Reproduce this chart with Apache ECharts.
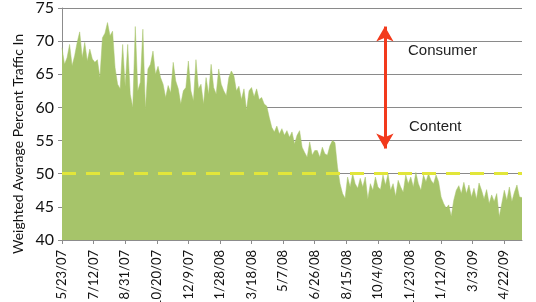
<!DOCTYPE html>
<html>
<head>
<meta charset="utf-8">
<script src="https://cdn.jsdelivr.net/npm/echarts@6/dist/echarts.min.js"></script>
<style>
  html, body { margin: 0; padding: 0; background: #fff; }
  #chart { width: 536px; height: 302px; }
</style>
</head>
<body>
<div id="chart"></div>
<script>
// days since 5/23/07, one value every 4 days
var stepDays = 4;
var xLabels = ['5/23/07', '7/12/07', '8/31/07', '10/20/07', '12/9/07', '1/28/08', '3/18/08',
    '5/7/08', '6/26/08', '8/15/08', '10/4/08', '11/23/08', '1/12/09', '3/3/09', '4/22/09'];
var trafficIn = [
    69, 66.5, 67.5, 69.5, 66.3, 67.8, 69.8, 71.4,
    67.5, 69.8, 67.0, 68.8, 67.3, 66.8, 67.2, 64.5,
    70.5, 71.2, 72.8, 70.8, 71.5, 66, 63.5, 62.8, 69.5, 63.2, 69.5,
    62, 60, 72.2, 62.5, 63.8, 71.8, 59.8, 65.8, 66.5, 68.5, 65, 66.2, 64.5,
    63.5, 61.5, 63.3, 62.2, 66.8, 64, 62.8, 60.5, 62.5, 63,
    67, 62.5, 61, 67.2, 62.8, 63.5, 60.5, 64.5, 62, 66.5, 63, 62,
    65.8, 63.5, 62.5, 61.8, 64.5, 65.5, 64.8, 62.5, 63.2, 61.2,
    62.8, 59.6, 62.5, 63, 61.6, 62.8, 61.2, 61.5, 60.5, 60.2, 58.5,
    57, 56.3, 57.2, 56, 56.8, 55.8, 56.5,
    55.5, 56.3, 54.5, 55.8, 56.5, 54, 53.2, 52.5, 54.8, 52.8, 53.5,
    53.5, 52.5, 54, 53, 52.8, 54.2, 55, 54.7, 51,
    48.5, 47, 46.3, 49.5, 48, 50, 48.5, 47.8, 49.3,
    48, 49.5, 46.2, 48.5, 47.5, 49.5, 48, 47.6, 49.8, 48.3, 50, 47.5,
    48.5, 46.6, 49, 48, 47.2, 49.8, 48.5, 49.5, 48,
    50.2, 48.5, 47.5, 49.8, 48.8, 50, 49, 48.5, 49.8, 48.8,
    46.5, 45.5, 44.8, 45.3, 43.6, 46, 47.5, 48.2, 47,
    48.7, 47, 48.3, 46.5, 47.8, 46.2, 48.6,
    47.5, 46.2, 47.6, 45.5, 46.8, 45.8, 47, 43.5, 45.5,
    47.5, 46, 48, 45.8, 47.2, 48.3, 46.5, 46.4
];
var thresholdLine = 50;
var arrowDay = 511;
var arrowTop = 72.2;
var arrowBottom = 53.8;

var seriesData = trafficIn.map(function (v, i) { return [i * stepDays, v]; });

var myChart = echarts.init(document.getElementById('chart'));
var option = {
    animation: false,
    grid: { left: 62, right: 14, top: 8, bottom: 62, outerBoundsMode: 'none', containLabel: false },
    xAxis: {
        type: 'value',
        min: 0,
        max: (trafficIn.length - 1) * stepDays,
        interval: 50,
        splitLine: { show: false },
        axisLine: { lineStyle: { color: '#8c8c8c', width: 1 } },
        axisTick: { show: true, length: 4, lineStyle: { color: '#8c8c8c' } },
        axisLabel: {
            rotate: 90,
            showMaxLabel: false,
            fontFamily: 'Lato',
            fontSize: 13,
            color: '#111',
            margin: 10,
            formatter: function (v) { return xLabels[v / 50] || ''; }
        }
    },
    yAxis: {
        type: 'value',
        min: 40,
        max: 75,
        interval: 5,
        axisLine: { show: true, lineStyle: { color: '#8c8c8c', width: 1 } },
        axisTick: { show: true, length: 4, lineStyle: { color: '#8c8c8c' } },
        splitLine: { lineStyle: { color: '#8a8a8a', width: 1.2 } },
        axisLabel: { fontFamily: 'Lato', fontSize: 16, color: '#111', margin: 8 }
    },
    graphic: [
        {
            type: 'text', x: 18, y: 144, rotation: Math.PI / 2,
            style: {
                text: 'Weighted Average Percent Traffic In',
                font: '14px Lato', fill: '#111',
                textAlign: 'center', textVerticalAlign: 'middle'
            }
        },
        {
            type: 'text', left: 408, top: 43,
            style: { text: 'Consumer', font: '15px "Liberation Sans"', fill: '#222' }
        },
        {
            type: 'text', left: 409, top: 119,
            style: { text: 'Content', font: '15px "Liberation Sans"', fill: '#222' }
        }
    ],
    series: [
        {
            type: 'line',
            data: seriesData,
            showSymbol: false,
            symbol: 'none',
            lineStyle: { width: 0.5, color: '#a9c56c' },
            areaStyle: { color: '#a6c46a', opacity: 1, origin: 'start' },
            markLine: {
                silent: true,
                symbol: ['none', 'none'],
                label: { show: false },
                data: [
                    {
                        yAxis: thresholdLine,
                        lineStyle: { color: '#e2e63a', width: 3, type: [14, 10] }
                    },
                    [
                        { coord: [arrowDay, arrowTop], symbol: 'arrow', symbolSize: [13, 15] },
                        { coord: [arrowDay, arrowBottom], symbol: 'arrow', symbolSize: [13, 15],
                          lineStyle: { color: '#f23a1c', width: 3, type: 'solid' } }
                    ]
                ],
                lineStyle: { color: '#f23a1c', width: 3, type: 'solid' }
            }
        }
    ]
};
myChart.setOption(option);
</script>
</body>
</html>
